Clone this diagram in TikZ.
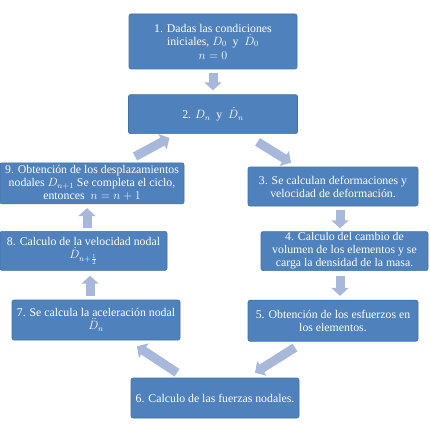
\documentclass[tikz,border=0pt]{standalone}
\usepackage{amsmath,amssymb}
\usepackage{fontspec}
\setmainfont{Liberation Serif}
\usetikzlibrary{positioning,arrows.meta}
\definecolor{boxblue}{RGB}{79,129,189}
\definecolor{boxedge}{RGB}{65,113,160}
\definecolor{arrowblue}{RGB}{168,184,218}

\begin{document}
\begin{tikzpicture}[x=1pt, y=-1pt, node distance=25pt,
	stepbox/.style={rectangle, rounded corners=2pt, draw=boxedge, line width=0.6pt, fill=boxblue, text=white, align=center, inner sep=1pt, font=\fontsize{11.8}{13}\selectfont},
	blockarrow/.style={color=arrowblue, line width=9pt, -{Triangle[width=17pt,length=8pt,fill=arrowblue]}}]
	\useasboundingbox (0,0) rectangle (429,433);
	\node[stepbox, minimum width=168pt, minimum height=55pt] (S1) at (213,41.5) {1. Dadas las condiciones\\iniciales, $D_0$\ \ y\ \ $\dot{D}_0$\\[1pt]$n=0$};
	\node[stepbox, minimum width=169pt, minimum height=39pt] (S2) [below=25pt of S1] {2. $D_n$\ \ y\ \ $\dot{D}_n$};
	\node[stepbox, minimum width=170pt, minimum height=39pt] (S3) at (333,186.5) {3. Se calculan deformaciones y\\velocidad de deformación.};
	\node[stepbox, minimum width=167pt, minimum height=39pt] (S4) [below=25pt of S3, xshift=11.5pt] {4. Calculo del cambio de\\volumen de los elementos y se\\carga la densidad de la masa.};
	\node[stepbox, minimum width=170pt, minimum height=41pt] (S5) [below=29pt of S4, xshift=-11.5pt] {5. Obtención de los esfuerzos en\\los elementos.};
	\node[stepbox, minimum width=168pt, minimum height=40pt] (S6) at (215,398) {6. Calculo de las fuerzas nodales.};
	\node[stepbox, minimum width=168pt, minimum height=40pt] (S7) at (96,320) {7. Se calcula la aceleración nodal\\$\ddot{D}_n$};
	\node[stepbox, minimum width=167pt, minimum height=39pt] (S8) [above=29pt of S7, xshift=-12.5pt] {8. Calculo de la velocidad nodal\\$\dot{D}_{n+\frac{1}{2}}$};
	\node[stepbox, minimum width=184pt, minimum height=41pt] (S9) [above=27pt of S8, xshift=8.5pt] {9. Obtención de los desplazamientos\\nodales $D_{n+1}$ Se completa el ciclo,\\entonces\ \ $n=n+1$};
	\path[blockarrow]
		([yshift=-4pt]S1.south) edge ([yshift=4pt]S2.north)
		([xshift=44.5pt,yshift=-8pt]S2.south) edge ([xshift=-42pt,yshift=4pt]S3.north)
		([xshift=7pt,yshift=-4pt]S3.south) edge ([xshift=-4.5pt,yshift=3pt]S4.north)
		([xshift=-4.5pt,yshift=-5pt]S4.south) edge ([xshift=7pt,yshift=4pt]S5.north)
		([xshift=-38pt,yshift=-6pt]S5.south) edge ([xshift=40pt,yshift=5pt]S6.north)
		([xshift=-38pt,yshift=5pt]S6.north) edge ([xshift=41pt,yshift=-6pt]S7.south)
		([xshift=-6pt,yshift=4pt]S7.north) edge ([xshift=6.5pt,yshift=-5pt]S8.south)
		([xshift=3.5pt,yshift=3pt]S8.north) edge ([xshift=-5pt,yshift=-4pt]S9.south)
		([xshift=43pt,yshift=6pt]S9.north) edge ([xshift=-43.5pt,yshift=-4pt]S2.south);
\end{tikzpicture}
\end{document}
